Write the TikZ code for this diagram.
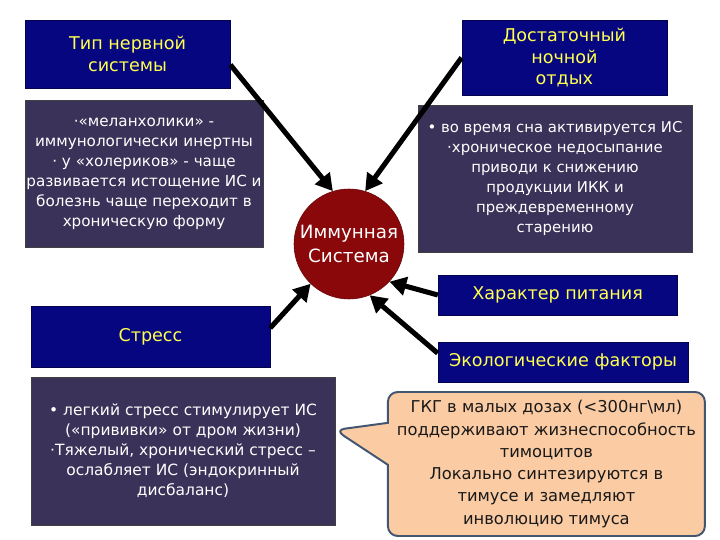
\documentclass[tikz,border=0pt]{standalone}
\usepackage{fontspec}
\setmainfont{DejaVu Sans}
\usetikzlibrary{arrows.meta,shapes.callouts}

\definecolor{navy}{RGB}{6,6,128}
\definecolor{plum}{RGB}{58,50,88}
\definecolor{ylw}{RGB}{255,255,80}
\definecolor{wine}{RGB}{138,8,10}
\definecolor{peach}{RGB}{251,203,163}
\definecolor{slate}{RGB}{66,86,114}

\begin{document}
\begin{tikzpicture}[
 ttl/.style={draw=navy!60!black,fill=navy,text=ylw,align=center,inner sep=2pt,font=\fontsize{12.5}{15.5}\selectfont},
 txt/.style={draw=black!75,fill=plum,text=white,align=center,inner sep=1pt,font=\fontsize{11}{14.2}\selectfont},
 core/.style={circle,draw=wine!70!black,fill=wine,text=white,align=center,inner sep=0pt,minimum size=2.75cm,font=\fontsize{13}{16.5}\selectfont},
 note/.style={rectangle callout,rounded corners=7pt,draw=slate,line width=1.4pt,fill=peach,text=black!90,align=center,inner sep=2pt,font=\fontsize{11.6}{15.8}\selectfont},
 arr/.style={-{Triangle[length=4.2mm,width=4.6mm]},line width=3.6pt,black}]
\useasboundingbox (0,0) rectangle (18,13.5);
\fill[white] (0,0) rectangle (18,13.5);
\node[ttl,minimum width=5.125cm,minimum height=1.7cm] (nerv) at (3.19,12.15) {Тип нервной\\системы};
\node[txt,minimum width=5.95cm,minimum height=3.675cm,font=\fontsize{10.8}{14.2}\selectfont] (nervtxt) at (3.6,9.16)
 {·«меланхолики» -\\иммунологически инертны\\· у «холериков» - чаще\\развивается истощение ИС и\\болезнь чаще переходит в\\хроническую форму};
\node[ttl,minimum width=5.125cm,minimum height=1.875cm] (sleep) at (14.11,12.06) {Достаточный\\ночной\\отдых};
\node[txt,minimum width=6.85cm,minimum height=3.675cm,font=\fontsize{10.6}{14.2}\selectfont] (sleeptxt) at (13.875,9.04)
 {• во время сна активируется ИС\\·хроническое недосыпание\\приводи к снижению\\продукции ИКК и\\преждевременному\\старению};
\node[core] (imm) at (8.725,7.4) {Иммунная\\Система};
\node[ttl,minimum width=5.975cm,minimum height=1cm] (food) at (13.94,6.125) {Характер питания};
\node[ttl,minimum width=6.25cm,minimum height=1cm] (eco) at (14.075,4.45) {Экологические факторы};
\node[ttl,minimum width=5.975cm,minimum height=1.525cm] (stress) at (3.76,5.09) {Стресс};
\node[txt,minimum width=7.6cm,minimum height=3.7cm] (stresstxt) at (4.575,2.225)
 {• легкий стресс стимулирует ИС\\(«прививки» от дром жизни)\\·Тяжелый, хронический стресс –\\ослабляет ИС (эндокринный\\дисбаланс)};
\coordinate (tip) at (8.375,2.75);
\node[note,minimum width=7.925cm,minimum height=3.6cm,callout absolute pointer={(tip)},callout pointer width=1.05cm] (gkg) at (13.66,1.9)
 {ГКГ в малых дозах (<300нг\textbackslash мл)\\поддерживают жизнеспособность\\тимоцитов\\Локально синтезируются в\\тимусе и замедляют\\инволюцию тимуса};
\draw[arr] (nerv.-6) -- (imm.107);
\draw[arr] (sleep.west) -- (imm.73);
\draw[arr] (stress.4) -- (imm.226);
\draw[arr] (food.west) -- (imm.-43);
\draw[arr] (eco.176) -- (imm.-68);
\end{tikzpicture}
\end{document}
